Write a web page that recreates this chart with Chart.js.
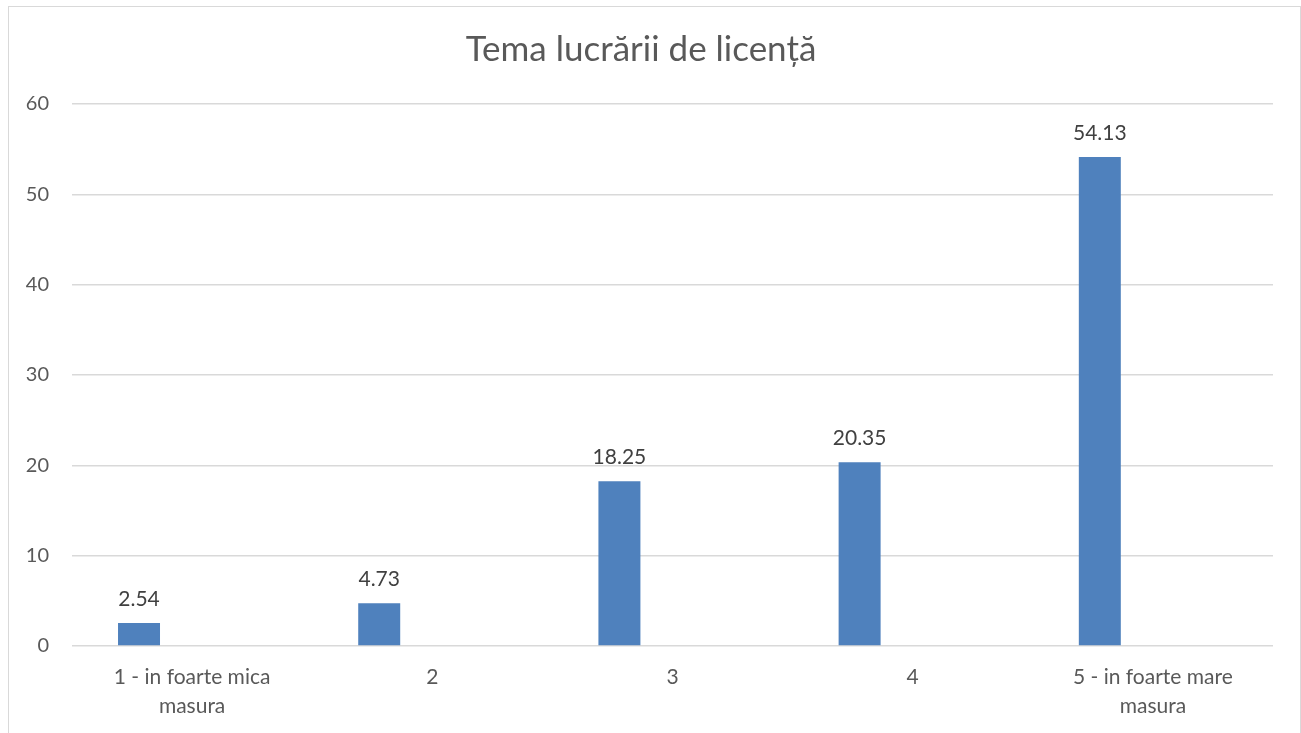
<!DOCTYPE html>
<html>
<head>
<meta charset="utf-8">
<script src="https://cdn.jsdelivr.net/npm/chart.js@4.4.1/dist/chart.umd.min.js"></script>
<style>
  html, body { margin: 0; padding: 0; background: #fff; overflow: hidden; }
  .chart-box {
    position: absolute; left: 8px; top: 6px;
    width: 1293px; height: 740px;
    box-sizing: border-box; border: 1px solid #d9d9d9; background: #fff;
  }
</style>
</head>
<body>
<div class="chart-box"><canvas id="chart"></canvas></div>
<script>
// Data
const chartTitle = 'Tema lucrării de licență';
const categories = [
  ['1 - in foarte mica', 'masura'],
  '2',
  '3',
  '4',
  ['5 - in foarte mare', 'masura']
];
const values = [2.54, 4.73, 18.25, 20.35, 54.13];
const emptySeries = [null, null, null, null, null];
const yTicks = [0, 10, 20, 30, 40, 50, 60];

const FONT = 'Lato';
const TEXT = '#595959';
const GRID = '#d9d9d9';

// value labels above the bars
const valueLabels = {
  id: 'valueLabels',
  afterDatasetsDraw(chart) {
    const ctx = chart.ctx;
    const meta = chart.getDatasetMeta(0);
    ctx.save();
    ctx.font = `21px ${FONT}`;
    ctx.fillStyle = '#404040';
    ctx.textAlign = 'center';
    ctx.textBaseline = 'alphabetic';
    meta.data.forEach((bar, i) => {
      ctx.fillText(values[i].toFixed(2), bar.x, bar.y - 17);
    });
    ctx.restore();
  }
};

new Chart(document.getElementById('chart'), {
  type: 'bar',
  data: {
    labels: categories,
    datasets: [
      { label: 'Serie', data: values, backgroundColor: '#4f81bd', categoryPercentage: 0.884, barPercentage: 0.3955 },
      { label: '', data: emptySeries, backgroundColor: '#4f81bd', categoryPercentage: 0.884, barPercentage: 0.3955 }
    ]
  },
  options: {
    responsive: true, maintainAspectRatio: false,
    animation: false,
    layout: { padding: { left: 0, right: 27, top: 0, bottom: 0 } },
    plugins: {
      legend: { display: false },
      tooltip: { enabled: false },
      title: {
        display: true, text: chartTitle, color: TEXT,
        font: { family: FONT, size: 35, weight: 'normal', lineHeight: 1.2 },
        padding: { top: 22, bottom: 33 }
      }
    },
    scales: {
      x: {
        grid: { display: false, drawTicks: false },
        border: { display: false },
        ticks: { color: TEXT, font: { family: FONT, size: 21, lineHeight: 1.38 }, padding: 17, maxRotation: 0, autoSkip: false },
        afterFit: (scale) => { scale.height = scale.chart.height - 639; }
      },
      y: {
        min: 0, max: 60,
        afterBuildTicks: (scale) => { scale.ticks = yTicks.map(v => ({ value: v })); },
        grid: { color: GRID, lineWidth: 1.5, drawTicks: false },
        border: { display: false },
        ticks: { color: TEXT, font: { family: FONT, size: 20 }, padding: 23 },
        afterFit: (scale) => { scale.width = 63; }
      }
    }
  },
  plugins: [valueLabels]
});
</script>
</body>
</html>
